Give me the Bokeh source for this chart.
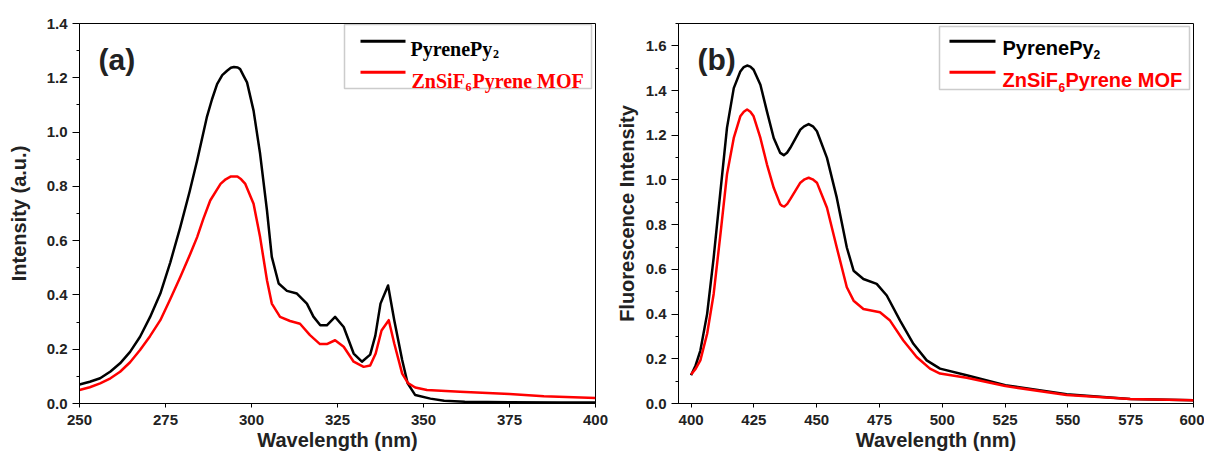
from bokeh.plotting import figure
from bokeh.layouts import row
from bokeh.models import FixedTicker, NumeralTickFormatter, Label, BoxAnnotation, Range1d
from bokeh.embed import file_html
from bokeh.resources import INLINE

# ---------------- data ----------------
# (a) absorption
wl_a_pyr = [250, 253, 256, 259, 261.8, 264.7, 267.6, 270.5, 273.5, 276.4, 279.3, 282, 284.2, 287,
            288.5, 290, 291.5, 292.9, 294, 294.9, 296, 296.7, 297.7, 298.7, 300.6, 302.5, 304.5, 305.9,
            307.9, 310.3, 313.2, 316.1, 318, 320, 321.9, 324.3, 326.8, 329.7, 332.1, 334.5, 336, 337.5,
            339.7, 341.5, 343.8, 345.4, 347.6, 352, 356, 362, 375, 390, 400]
int_a_pyr = [0.07, 0.08, 0.093, 0.118, 0.148, 0.19, 0.246, 0.318, 0.405, 0.52, 0.65, 0.78, 0.895, 1.054,
             1.12, 1.177, 1.21, 1.226, 1.237, 1.24, 1.238, 1.232, 1.207, 1.183, 1.079, 0.92, 0.711, 0.54,
             0.442, 0.415, 0.405, 0.368, 0.32, 0.288, 0.288, 0.319, 0.282, 0.184, 0.154, 0.18, 0.25, 0.368,
             0.435, 0.307, 0.16, 0.074, 0.031, 0.018, 0.01, 0.006, 0.005, 0.004, 0.004]
wl_a_mof = [250, 253, 256, 259, 261.8, 264.7, 267.6, 270.5, 273.5, 276.4, 279.3, 282, 284.2, 286,
            288, 291, 292.5, 293.9, 295.9, 297, 298.2, 300.6, 302.5, 304.5, 305.9, 308.3, 311.2, 314.1, 317,
            319.9, 321.9, 324.3, 326.8, 329.7, 332.6, 334.5, 336.1, 337.8, 339.9, 341.5, 343.8,
            345.5, 347.6, 351, 360.6, 375, 385, 400]
int_a_mof = [0.05, 0.06, 0.074, 0.093, 0.117, 0.152, 0.197, 0.248, 0.307, 0.385, 0.466, 0.545, 0.613, 0.68,
             0.748, 0.809, 0.826, 0.836, 0.836, 0.826, 0.809, 0.736, 0.613, 0.454, 0.368, 0.319, 0.304, 0.294, 0.252,
             0.219, 0.219, 0.233, 0.209, 0.154, 0.135, 0.14, 0.184, 0.269, 0.307, 0.221, 0.11,
             0.075, 0.059, 0.05, 0.043, 0.035, 0.027, 0.02]

# (b) fluorescence
wl_b_pyr = [400, 401.8, 403.7, 406.4, 409, 411.7, 414.3, 417, 419.6, 421, 422.3, 423.6, 424.9, 427.6, 430.2,
            432.9, 435.5, 436.9, 438.2, 439.5, 443.5, 445, 446.8, 448.5, 450.1, 454.1, 458, 462, 464.7, 468.6,
            473.9, 477.9, 483.2, 488.5, 493.8, 499.1, 509.7, 525.1, 549.5, 574.8, 600]
int_b_pyr = [0.126, 0.17, 0.237, 0.401, 0.653, 0.95, 1.233, 1.411, 1.485, 1.505, 1.512, 1.507, 1.493, 1.426, 1.307,
             1.188, 1.121, 1.111, 1.122, 1.144, 1.225, 1.24, 1.25, 1.24, 1.218, 1.099, 0.921, 0.698, 0.594, 0.557,
             0.535, 0.483, 0.371, 0.267, 0.193, 0.156, 0.126, 0.082, 0.041, 0.02, 0.015]
wl_b_mof = [400, 401.8, 403.7, 406.4, 409, 411.7, 414.3, 417, 419.6, 421, 422.3, 423.6, 424.9, 427.6, 430.2,
            432.9, 435.5, 436.3, 437.1, 438.3, 439.5, 443.5, 445.2, 446.8, 448.4, 450.1, 454.1, 458, 462, 464.7,
            468.6, 475.2, 479.2, 484.5, 489.8, 495.1, 499.1, 509.7, 525.1, 549.5, 574.8, 600]
int_b_mof = [0.13, 0.155, 0.193, 0.312, 0.49, 0.758, 1.025, 1.188, 1.285, 1.305, 1.315, 1.305, 1.285, 1.188, 1.07,
             0.965, 0.891, 0.884, 0.881, 0.893, 0.914, 0.988, 1.003, 1.01, 1.003, 0.988, 0.876, 0.698, 0.52, 0.46,
             0.423, 0.408, 0.371, 0.282, 0.208, 0.156, 0.134, 0.115, 0.078, 0.038, 0.02, 0.015]

xticks_a = [250, 275, 300, 325, 350, 375, 400]
yticks_a = [0.0, 0.2, 0.4, 0.6, 0.8, 1.0, 1.2, 1.4]
yminor_a = [0.1, 0.3, 0.5, 0.7, 0.9, 1.1, 1.3]
xticks_b = [400, 425, 450, 475, 500, 525, 550, 575, 600]
yticks_b = [0.0, 0.2, 0.4, 0.6, 0.8, 1.0, 1.2, 1.4, 1.6]
yminor_b = [0.1, 0.3, 0.5, 0.7, 0.9, 1.1, 1.3, 1.5, 1.7]

name_pyr = "PyrenePy"
sub_pyr = "2"
name_mof_a = "ZnSiF"
sub_mof = "6"
name_mof_b = "Pyrene MOF"

SANS = "Liberation Sans"
SERIF = "Liberation Serif"
BLACK = "#000000"
RED = "#ff0000"


def make_fig(width, left, right, xr, yr, xticks, yticks, yminor, xlabel, ylabel, ystandoff):
    p = figure(width=width, height=457, output_backend="svg", toolbar_location=None,
               x_range=Range1d(*xr), y_range=Range1d(*yr),
               min_border_left=left, min_border_right=right, min_border_top=23, min_border_bottom=54)
    p.xgrid.visible = False
    p.ygrid.visible = False
    p.outline_line_color = "#000000"
    p.outline_line_width = 1
    p.outline_line_alpha = 1
    p.background_fill_color = "white"
    p.border_fill_color = "white"
    p.xaxis.ticker = FixedTicker(ticks=xticks, minor_ticks=[])
    p.yaxis.ticker = FixedTicker(ticks=yticks, minor_ticks=yminor)
    p.yaxis.formatter = NumeralTickFormatter(format="0.0")
    for ax in (p.xaxis[0], p.yaxis[0]):
        ax.axis_line_color = "#000000"
        ax.axis_line_width = 1
        ax.major_tick_line_color = "#000000"
        ax.minor_tick_line_color = "#000000"
        ax.major_tick_in = 0
        ax.minor_tick_in = 0
        ax.major_label_text_font = SANS
        ax.major_label_text_font_style = "bold"
        ax.major_label_text_font_size = "15px"
        ax.major_label_text_color = "#222222"
        ax.axis_label_text_font = SANS
        ax.axis_label_text_font_style = "bold"
        ax.axis_label_text_font_size = "20px"
        ax.axis_label_text_color = "#222222"
    p.xaxis.major_tick_out = 4
    p.xaxis.minor_tick_out = 0
    p.yaxis.major_tick_out = 7
    p.yaxis.minor_tick_out = 3
    p.xaxis.major_label_standoff = 7
    p.yaxis.major_label_standoff = 5
    p.xaxis.axis_label = xlabel
    p.yaxis.axis_label = ylabel
    p.xaxis.axis_label_standoff = 1
    p.yaxis.axis_label_standoff = ystandoff
    return p


def add_text(p, x, y, text, font, size, color):
    p.add_layout(Label(x=x, y=y, x_units="screen", y_units="screen", text=text,
                       text_font=font, text_font_size=size, text_font_style="bold",
                       text_color=color, text_baseline="alphabetic", text_align="left"))


def add_legend(p, box, lines_y, line_x, font, pos):
    l, r, b, t = box
    p.add_layout(BoxAnnotation(left=l, right=r, bottom=b, top=t,
                               left_units="screen", right_units="screen",
                               bottom_units="screen", top_units="screen",
                               fill_color="white", fill_alpha=1,
                               line_color="#555555", line_width=1.5))
    for yy, col in zip(lines_y, (BLACK, RED)):
        p.add_layout(BoxAnnotation(left=line_x[0], right=line_x[1], bottom=yy - 1.5, top=yy + 1.5,
                                   left_units="screen", right_units="screen",
                                   bottom_units="screen", top_units="screen",
                                   fill_color=col, fill_alpha=1, line_color=None))
    (x1, y1), (xs1, ys1), (x2, y2), (xs2, ys2), (x3, y3) = pos
    add_text(p, x1, y1, name_pyr, font, "20px", BLACK)
    add_text(p, xs1, ys1, sub_pyr, font, "12px", BLACK)
    add_text(p, x2, y2, name_mof_a, font, "20px", RED)
    add_text(p, xs2, ys2, sub_mof, font, "12px", RED)
    add_text(p, x3, y3, name_mof_b, font, "20px", RED)


# ---------- panel (a) ----------
pa = make_fig(612, 79, 17, (250, 400), (0, 1.4), xticks_a, yticks_a, yminor_a,
              "Wavelength (nm)", "Intensity (a.u.)", 14)
pa.line(wl_a_pyr, int_a_pyr, line_color=BLACK, line_width=2.5, line_join="round")
pa.line(wl_a_mof, int_a_mof, line_color=RED, line_width=2.5, line_join="round")
add_text(pa, 19, 344, "(a)", SANS, "30px", "#222222")
add_legend(pa, (265, 512, 315, 379), (362.3, 331.3), (281, 326), SERIF,
           [(331, 355), (413.5, 350), (332, 323), (386, 317), (393, 323)])

# ---------- panel (b) ----------
pb = make_fig(592, 66, 11, (395, 600), (0, 1.7), xticks_b, yticks_b, yminor_b,
              "Wavelength (nm)", "Fluorescence Intensity", 5)
pb.line(wl_b_pyr, int_b_pyr, line_color=BLACK, line_width=2.5, line_join="round")
pb.line(wl_b_mof, int_b_mof, line_color=RED, line_width=2.5, line_join="round")
add_text(pb, 19, 344, "(b)", SANS, "30px", "#222222")
add_legend(pb, (261, 511, 314, 377), (362.3, 331.3), (271, 317), SANS,
           [(324, 356), (415, 349), (324, 324), (380, 316), (387, 324)])

layout = row(pa, pb)
open("out.html", "w").write(file_html(layout, INLINE))
